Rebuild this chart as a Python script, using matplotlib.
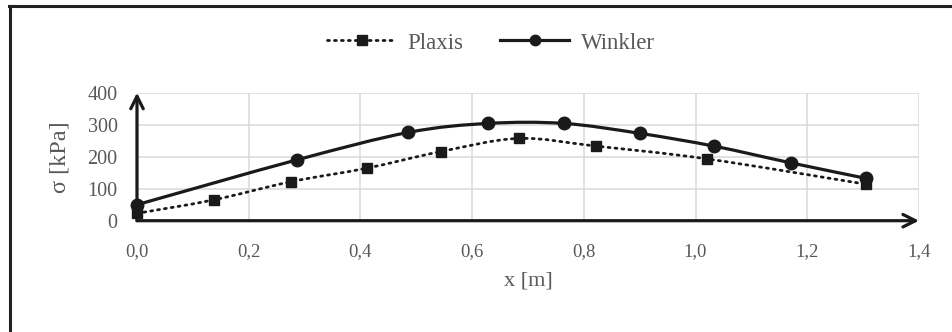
import numpy as np
import matplotlib
matplotlib.use("Agg")
import matplotlib.pyplot as plt
from matplotlib.path import Path
from matplotlib.patches import PathPatch
from matplotlib.lines import Line2D

# values
plaxis_x = [0.0, 0.137, 0.276, 0.411, 0.544, 0.683, 0.822, 1.021, 1.305]
plaxis_y = [23, 65, 122, 164, 216, 257, 233, 193, 114]
winkler_x = [0.0, 0.286, 0.486, 0.629, 0.764, 0.900, 1.033, 1.170, 1.306]
winkler_y = [50, 190, 276, 304, 304, 273, 233, 181, 132]

x_ticks = [0.0, 0.2, 0.4, 0.6, 0.8, 1.0, 1.2, 1.4]
y_ticks = [0, 100, 200, 300, 400]

txt_col = "#595959"
plt.rcParams["font.family"] = ["Liberation Serif", "DejaVu Serif"]


def smooth_path(xs, ys):
    # Excel-like smoothed line: cubic bezier with catmull-rom control points
    p = np.column_stack([xs, ys]).astype(float)
    verts = [p[0]]
    codes = [Path.MOVETO]
    n = len(p)
    for i in range(n - 1):
        p0 = p[i - 1] if i > 0 else p[i]
        p3 = p[i + 2] if i + 2 < n else p[i + 1]
        c1 = p[i] + (p[i + 1] - p0) / 6.0
        c2 = p[i + 1] - (p3 - p[i]) / 6.0
        verts += [c1, c2, p[i + 1]]
        codes += [Path.CURVE4] * 3
    return Path(verts, codes)


fig = plt.figure(figsize=(9.52, 3.32), dpi=100)
ax = fig.add_axes([137 / 952, 1 - 220.7 / 332, (919 - 137) / 952, 128 / 332])

ax.set_xlim(0, 1.4)
ax.set_ylim(0, 400)
ax.set_xticks(x_ticks)
ax.set_yticks(y_ticks)
ax.set_xticklabels([("%.1f" % v).replace(".", ",") for v in x_ticks])
ax.set_yticklabels([str(v) for v in y_ticks])
ax.tick_params(length=0, colors=txt_col)
ax.tick_params(axis="x", pad=16, labelsize=13.5)
ax.tick_params(axis="y", pad=14, labelsize=14.5)
for s in ax.spines.values():
    s.set_visible(False)
ax.grid(True, color="#d9d9d9", linewidth=1.1)
ax.set_axisbelow(True)

# axis arrows
ax.annotate("", xy=(0, 400), xytext=(0, 0), annotation_clip=False,
            arrowprops=dict(arrowstyle="->,head_length=0.9,head_width=0.45",
                            color="#1a1a1a", lw=2.3, shrinkA=0, shrinkB=0))
ax.annotate("", xy=(1.4, 0), xytext=(0, 0), annotation_clip=False,
            arrowprops=dict(arrowstyle="->,head_length=0.9,head_width=0.45",
                            color="#1a1a1a", lw=2.3, shrinkA=0, shrinkB=0))

# Plaxis
ax.add_patch(PathPatch(smooth_path(plaxis_x, plaxis_y), fill=False,
                       edgecolor="#1a1a1a", lw=2.0, linestyle=(0, (0.7, 1.8)),
                       capstyle="round", zorder=3))
ax.plot(plaxis_x, plaxis_y, linestyle="none", marker="s", markersize=7.5,
        color="#1a1a1a", zorder=4, clip_on=False)

# Winkler
ax.add_patch(PathPatch(smooth_path(winkler_x, winkler_y), fill=False,
                       edgecolor="#1a1a1a", lw=2.3, zorder=5))
ax.plot(winkler_x, winkler_y, linestyle="none", marker="o", markersize=9,
        color="#1a1a1a", zorder=6, clip_on=False)

ax.set_xlabel("x [m]", color=txt_col, fontsize=16, labelpad=8)
ax.set_ylabel("σ [kPa]", color=txt_col, fontsize=17.5, labelpad=12)

handles = [
    Line2D([], [], color="#1a1a1a", lw=2.0, linestyle=(0, (0.7, 1.8)),
           dash_capstyle="round", marker="s", markersize=7.5),
    Line2D([], [], color="#1a1a1a", lw=2.3, marker="o", markersize=7.5),
]
fig.legend(handles, ["Plaxis", "Winkler"], loc="center", ncol=2,
           bbox_to_anchor=(491 / 952, 1 - 43 / 332), frameon=False,
           fontsize=16.5, labelcolor=txt_col, handlelength=3.0,
           columnspacing=1.6, handletextpad=0.5)

# border of the chart area (left and top only)
fig.add_artist(Line2D([9.5 / 952, 9.5 / 952], [0, 1 - 6 / 332],
                      transform=fig.transFigure, color="#231f20", lw=2.2))
fig.add_artist(Line2D([8.5 / 952, 1], [1 - 6 / 332, 1 - 6 / 332],
                      transform=fig.transFigure, color="#231f20", lw=2.2))

fig.savefig("out.png", dpi=100)
